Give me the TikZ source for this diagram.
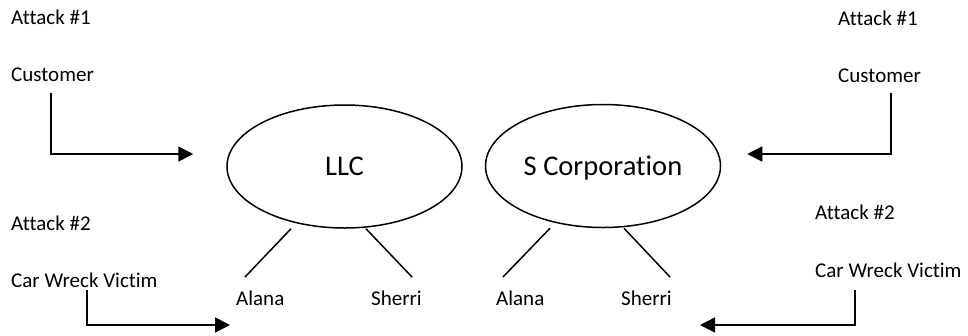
\documentclass[tikz,border=0pt]{standalone}
\usepackage{fontspec}
\setmainfont{Carlito}[Ligatures=NoCommon]
\usetikzlibrary{positioning,calc,arrows.meta,shapes.geometric}
\tikzset{>={Triangle[length=15pt,width=15pt]}}

\begin{document}
\begin{tikzpicture}[x=1pt,y=-1pt,
  lbl/.style={inner sep=0pt,anchor=base west,font=\fontsize{21}{25}\selectfont},
  firm/.style={draw,ellipse,line width=1.5pt,inner sep=0pt,minimum width=235pt,minimum height=123pt,text depth=0pt,font=\fontsize{28.5}{34}\selectfont},
  conn/.style={->,line width=1.5pt},
  twig/.style={line width=1.5pt}]
\useasboundingbox (0,0) rectangle (968,335);
\node[firm] (llc) at (344.5,166.5) {LLC};
\node[firm] (scorp) at (603,166) {S Corporation};
\node[lbl] (atk1L) at (11,24) {Attack \#1};
\node[lbl] (custL) at (11,81) {Customer};
\node[lbl] (atk2L) at (11,230) {Attack \#2};
\node[lbl] (victL) at (11,287) {Car Wreck Victim};
\node[lbl] (alanaL) at (236,305) {Alana};
\node[lbl] (sherriL) at (371,305) {Sherri};
\node[lbl] (alanaS) at (496,305) {Alana};
\node[lbl] (sherriS) at (621,305) {Sherri};
\node[lbl] (atk1S) at (838,25) {Attack \#1};
\node[lbl] (custS) at (838,82) {Customer};
\node[lbl] (atk2S) at (815,219) {Attack \#2};
\node[lbl] (victS) at (815,277) {Car Wreck Victim};
\coordinate (hitA) at ($(llc.west)+(-33,-12.5)$);
\coordinate (hitB) at (230,325);
\coordinate (hitC) at ($(scorp.east)+(26,-12)$);
\coordinate (hitD) at (700,325);
\draw[conn] ($(custL.base west)+(40,12)$) |- (hitA);
\draw[conn] ($(victL.base west)+(76,3)$) |- (hitB);
\draw[conn] ($(custS.base west)+(53,11)$) |- (hitC);
\draw[conn] ($(victS.base west)+(40,13)$) |- (hitD);
\draw[twig] ($(llc.south)+(-53.5,0)$) -- ($(alanaL.base west)+(9,-28)$);
\draw[twig] ($(llc.south)+(21.5,0)$) -- ($(sherriL.base west)+(41,-28)$);
\draw[twig] ($(scorp.south)+(-53,0)$) -- ($(alanaS.base west)+(7,-28)$);
\draw[twig] ($(scorp.south)+(21,0)$) -- ($(sherriS.base west)+(49,-28)$);
\end{tikzpicture}
\end{document}
